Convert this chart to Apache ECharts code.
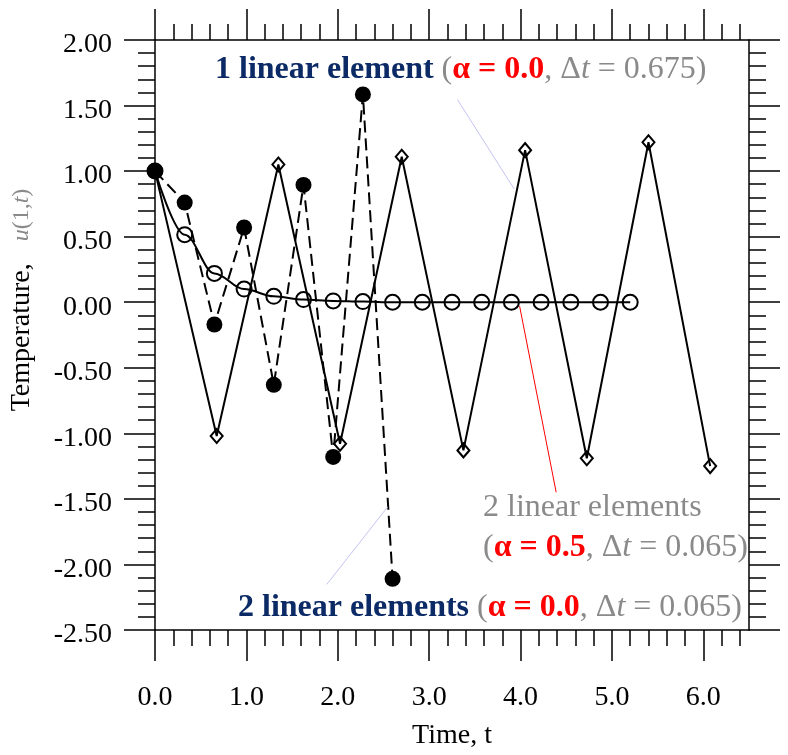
<!DOCTYPE html>
<html>
<head>
<meta charset="utf-8">
<script src="https://cdn.jsdelivr.net/npm/echarts@6/dist/echarts.min.js"></script>
<style>
html,body{margin:0;padding:0;background:#fff;overflow:hidden;}
#c{width:788px;height:755px;}
</style>
</head>
<body>
<div id="c"></div>
<script>
// ---- data ----
const tTicks = [0, 1, 2, 3, 4, 5, 6];
const uTicks = [-2.5, -2.0, -1.5, -1.0, -0.5, 0.0, 0.5, 1.0, 1.5, 2.0];

// 1 linear element, alpha = 0.0, dt = 0.675
const tCoarse = [0, 0.675, 1.35, 2.025, 2.7, 3.375, 4.05, 4.725, 5.4, 6.075];
const uCoarse = [1.00, -1.02, 1.05, -1.08, 1.11, -1.13, 1.16, -1.19, 1.22, -1.25];

// 2 linear elements, alpha = 0.5, dt = 0.065 (markers every 5 steps)
const tHalf = [0, 0.325, 0.65, 0.975, 1.3, 1.625, 1.95, 2.275, 2.6, 2.925, 3.25, 3.575, 3.9, 4.225, 4.55, 4.875, 5.2];
const uHalf = [1.00, 0.515, 0.22, 0.10, 0.045, 0.02, 0.01, 0.005, 0.0, 0.0, 0.0, 0.0, 0.0, 0.0, 0.0, 0.0, 0.0];

// 2 linear elements, alpha = 0.0, dt = 0.065 (markers every 5 steps)
const tExplicit = [0, 0.325, 0.65, 0.975, 1.3, 1.625, 1.95, 2.275, 2.6];
const uExplicit = [1.00, 0.76, -0.17, 0.57, -0.63, 0.895, -1.18, 1.585, -2.11];

// leader lines (data coordinates)
const leaderCoarse = [[3.31, 1.545], [3.93, 0.864]];
const leaderHalf = [[3.99, -0.03], [4.39, -1.45]];
const leaderExplicit = [[2.546, -1.561], [1.88, -2.152]];

// ---- chart ----
const FONT = '"Liberation Serif", "DejaVu Serif", serif';
const NAVY = '#0b2a66';
const GRAY = '#8a8a8a';
const RED = '#ff0000';
const AFS = 32; // annotation font size

const zip = (xs, ys) => xs.map((x, i) => [x, ys[i]]);
const leader = (pts, color) => ({
  silent: true,
  symbol: 'none',
  label: {show: false},
  lineStyle: {color: color, width: 1, type: 'solid'},
  data: [[{coord: pts[0]}, {coord: pts[1]}]]
});

const axisCommon = {
  axisLine: {show: true, onZero: false, lineStyle: {color: '#000', width: 1.5}},
  splitLine: {show: false},
  minorSplitLine: {show: false}
};

const chart = echarts.init(document.getElementById('c'), null, {renderer: 'canvas'});

const annRich = {
  b: {fontFamily: FONT, fontSize: AFS, fontWeight: 'bold', fill: NAVY},
  g: {fontFamily: FONT, fontSize: AFS, fill: GRAY},
  gi: {fontFamily: FONT, fontSize: AFS, fill: GRAY, fontStyle: 'italic'},
  r: {fontFamily: FONT, fontSize: AFS, fontWeight: 'bold', fill: RED}
};

const option = {
  backgroundColor: '#fff',
  animation: false,
  grid: {left: 155, top: 40, width: 594, height: 594, containLabel: false},
  xAxis: [
    Object.assign({}, axisCommon, {
      type: 'value', position: 'bottom', min: 0, max: 6.5, interval: 1,
      axisTick: {show: true, inside: false, length: 31, lineStyle: {color: '#000', width: 1.5}, customValues: tTicks},
      minorTick: {show: true, splitNumber: 5, length: 16, lineStyle: {color: '#000', width: 1.5}},
      axisLabel: {show: true, margin: 54, color: '#000', fontFamily: FONT, fontSize: 28,
        customValues: tTicks, formatter: v => v.toFixed(1)},
      name: 'Time, t', nameLocation: 'middle', nameGap: 92,
      nameTextStyle: {color: '#000', fontFamily: FONT, fontSize: 28}
    }),
    Object.assign({}, axisCommon, {
      type: 'value', position: 'top', min: 0, max: 6.5, interval: 1,
      axisTick: {show: true, inside: false, length: 31, lineStyle: {color: '#000', width: 1.5}, customValues: tTicks},
      minorTick: {show: true, splitNumber: 5, length: 16, lineStyle: {color: '#000', width: 1.5}},
      axisLabel: {show: false}
    })
  ],
  yAxis: [
    Object.assign({}, axisCommon, {
      type: 'value', position: 'left', min: -2.5, max: 2.0, interval: 0.5,
      axisTick: {show: true, inside: false, length: 31, lineStyle: {color: '#000', width: 1.5}},
      minorTick: {show: true, splitNumber: 5, length: 17, lineStyle: {color: '#000', width: 1.5}},
      axisLabel: {show: true, margin: 43, color: '#000', fontFamily: FONT, fontSize: 28,
        verticalAlign: 'top', lineHeight: 10, formatter: v => v.toFixed(2)}
    }),
    Object.assign({}, axisCommon, {
      type: 'value', position: 'right', min: -2.5, max: 2.0, interval: 0.5,
      axisTick: {show: true, inside: false, length: 31, lineStyle: {color: '#000', width: 1.5}},
      minorTick: {show: true, splitNumber: 5, length: 17, lineStyle: {color: '#000', width: 1.5}},
      axisLabel: {show: false}
    })
  ],
  series: [
    {
      name: '1 linear element', type: 'line', xAxisIndex: 0, yAxisIndex: 0,
      data: zip(tCoarse, uCoarse),
      symbol: 'diamond', symbolSize: [12, 14],
      itemStyle: {color: 'rgba(0,0,0,0)', borderColor: '#000', borderWidth: 2},
      lineStyle: {color: '#000', width: 2},
      z: 2,
      markLine: leader(leaderCoarse, '#c4c4f2')
    },
    {
      name: '2 linear elements alpha 0.5', type: 'line', xAxisIndex: 0, yAxisIndex: 0,
      data: zip(tHalf, uHalf),
      smooth: 0.35, smoothMonotone: 'x',
      symbol: 'circle', symbolSize: 15,
      itemStyle: {color: 'rgba(0,0,0,0)', borderColor: '#000', borderWidth: 2},
      lineStyle: {color: '#000', width: 2},
      z: 3,
      markLine: leader(leaderHalf, '#ff0000')
    },
    {
      name: '2 linear elements alpha 0.0', type: 'line', xAxisIndex: 0, yAxisIndex: 0,
      data: zip(tExplicit, uExplicit),
      symbol: 'circle', symbolSize: 16,
      itemStyle: {color: '#000', borderWidth: 0},
      lineStyle: {color: '#000', width: 2, type: [12, 6]},
      z: 4,
      markLine: leader(leaderExplicit, '#c4c4f2')
    }
  ],
  graphic: [
    {
      type: 'text', x: 22, y: 300, rotation: Math.PI / 2,
      style: {
        text: '{a|Temperature,}{s| }{ui|u}{u|(1,}{ui|t}{u|)}',
        align: 'center', verticalAlign: 'middle',
        rich: {
          a: {fontFamily: FONT, fontSize: 28, fill: '#000'},
          s: {fontFamily: FONT, fontSize: 28, width: 22},
          u: {fontFamily: FONT, fontSize: 24, fill: GRAY},
          ui: {fontFamily: FONT, fontSize: 24, fill: GRAY, fontStyle: 'italic'}
        }
      }
    },
    {
      type: 'text', x: 215, y: 70,
      style: {
        text: '{b|1 linear element}{g| (}{r|α = 0.0}{g|, Δ}{gi|t}{g| = 0.675)}',
        align: 'left', verticalAlign: 'middle',
        rich: annRich
      }
    },
    {
      type: 'text', x: 483, y: 508,
      style: {
        text: '{g|2 linear elements}',
        align: 'left', verticalAlign: 'middle',
        rich: annRich
      }
    },
    {
      type: 'text', x: 483, y: 548,
      style: {
        text: '{g|(}{r|α = 0.5}{g|, Δ}{gi|t}{g| = 0.065)}',
        align: 'left', verticalAlign: 'middle',
        rich: annRich
      }
    },
    {
      type: 'text', x: 238, y: 608,
      style: {
        text: '{b|2 linear elements}{g| (}{r|α = 0.0}{g|, Δ}{gi|t}{g| = 0.065)}',
        align: 'left', verticalAlign: 'middle',
        rich: annRich
      }
    }
  ]
};

chart.setOption(option);
</script>
</body>
</html>
